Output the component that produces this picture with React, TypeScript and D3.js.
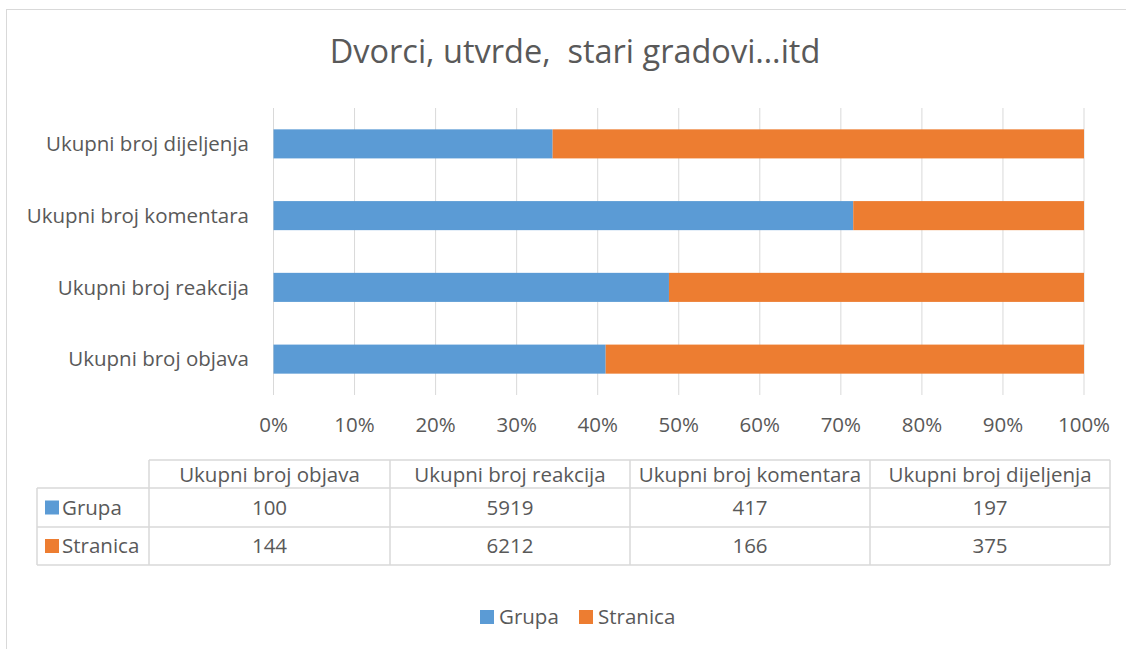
import React from "react";
import * as d3 from "d3";

const categories = ["Ukupni broj objava", "Ukupni broj reakcija", "Ukupni broj komentara", "Ukupni broj dijeljenja"];
const seriesNames = ["Grupa", "Stranica"];
const grupa = [100, 5919, 417, 197];
const stranica = [144, 6212, 166, 375];
const colors = ["#5B9BD5", "#ED7D31"];
const xTicks = [0, 0.1, 0.2, 0.3, 0.4, 0.5, 0.6, 0.7, 0.8, 0.9, 1];
const title = "Dvorci, utvrde,  stari gradovi…itd";

const FONT = "'Open Sans', 'Noto Sans', sans-serif";
const TXT = "#595959";
const GRID = "#D9D9D9";
const FS = 20.5;

export default function App() {
  const W = 1126, H = 649;
  const x = d3.scaleLinear().domain([0, 1]).range([273.5, 1084]);
  const y = d3.scaleBand().domain([...categories].reverse()).range([108, 395]).paddingInner(0.595).paddingOuter(0.2975);
  const stack = d3.stack<any>().keys(seriesNames).offset(d3.stackOffsetExpand);
  const rows = categories.map((c, i) => ({ cat: c, Grupa: grupa[i], Stranica: stranica[i] }));
  const stacked = stack(rows);

  const colX = [37, 149, 390, 630, 870, 1110];
  const rowY = [460, 488, 527, 565];
  const vals = [grupa, stranica];

  return (
    <svg width={W} height={H} style={{ position: "absolute", left: 0, top: 0, background: "#fff" }} fontFamily={FONT}>
      <rect x={6.5} y={9.5} width={1130} height={650} fill="#fff" stroke={GRID} strokeWidth={1} />
      <text x={575} y={63} textAnchor="middle" fontSize={32.5} fill={TXT} style={{ whiteSpace: "pre" }} xmlSpace="preserve">{title}</text>
      {xTicks.map((t) => (
        <line key={t} x1={x(t)} x2={x(t)} y1={108} y2={395} stroke={GRID} strokeWidth={1} />
      ))}
      {stacked.map((s, si) => (
        <g key={s.key}>
          {s.map((d, i) => (
            <rect key={i} x={x(d[0])} width={x(d[1]) - x(d[0])} y={y(rows[i].cat)!} height={y.bandwidth()} fill={colors[si]} />
          ))}
        </g>
      ))}
      {categories.map((c) => (
        <text key={c} x={249} y={y(c)! + y.bandwidth() / 2} dy="0.35em" textAnchor="end" fontSize={FS} fill={TXT}>{c}</text>
      ))}
      {xTicks.map((t) => (
        <text key={t} x={x(t)} y={425} dy="0.35em" textAnchor="middle" fontSize={FS} fill={TXT}>{d3.format(".0%")(t)}</text>
      ))}
      {/* data table */}
      <g stroke={GRID} strokeWidth={1.5} fill="none">
        <line x1={colX[1]} x2={colX[5]} y1={rowY[0]} y2={rowY[0]} />
        <line x1={colX[0]} x2={colX[5]} y1={rowY[1]} y2={rowY[1]} />
        <line x1={colX[0]} x2={colX[5]} y1={rowY[2]} y2={rowY[2]} />
        <line x1={colX[0]} x2={colX[5]} y1={rowY[3]} y2={rowY[3]} />
        <line x1={colX[0]} x2={colX[0]} y1={rowY[1]} y2={rowY[3]} />
        {colX.slice(1).map((cx) => (
          <line key={cx} x1={cx} x2={cx} y1={rowY[0]} y2={rowY[3]} />
        ))}
      </g>
      {categories.map((c, i) => (
        <text key={c} x={(colX[i + 1] + colX[i + 2]) / 2} y={(rowY[0] + rowY[1]) / 2 + 1} dy="0.35em" textAnchor="middle" fontSize={FS} fill={TXT}>{c}</text>
      ))}
      {seriesNames.map((s, si) => (
        <g key={s}>
          <rect x={45} y={(rowY[si + 1] + rowY[si + 2]) / 2 - 7} width={14} height={14} fill={colors[si]} />
          <text x={62} y={(rowY[si + 1] + rowY[si + 2]) / 2} dy="0.35em" fontSize={FS} fill={TXT}>{s}</text>
          {vals[si].map((v, i) => (
            <text key={i} x={(colX[i + 1] + colX[i + 2]) / 2} y={(rowY[si + 1] + rowY[si + 2]) / 2} dy="0.35em" textAnchor="middle" fontSize={FS} fill={TXT}>{v}</text>
          ))}
        </g>
      ))}
      {/* legend */}
      {seriesNames.map((s, si) => {
        const lx = si === 0 ? 480 : 579;
        return (
          <g key={s}>
            <rect x={lx} y={610} width={14} height={14} fill={colors[si]} />
            <text x={lx + 19} y={617} dy="0.35em" fontSize={FS} fill={TXT}>{s}</text>
          </g>
        );
      })}
    </svg>
  );
}
